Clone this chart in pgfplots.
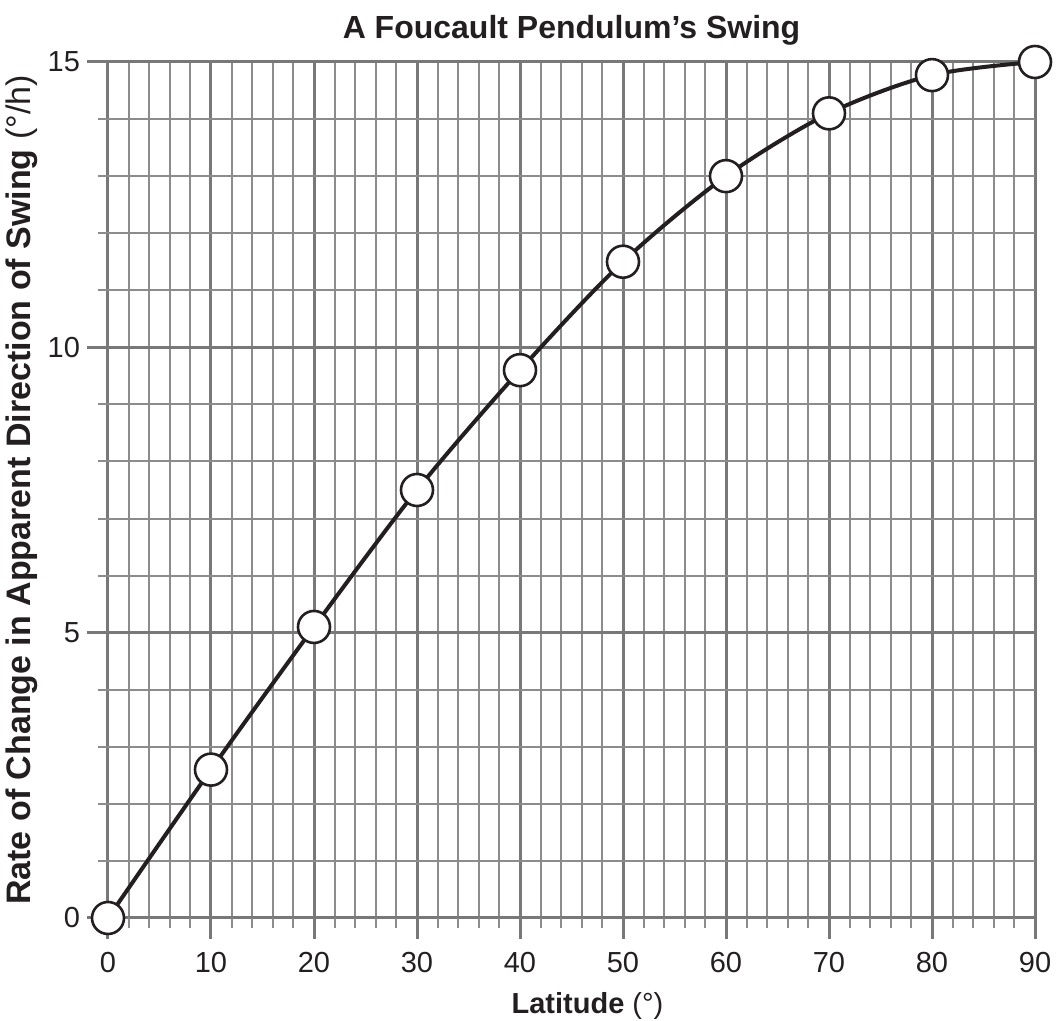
\documentclass[border=0pt]{standalone}
\usepackage{pgfplots}
\pgfplotsset{compat=1.18}
\usepackage{fontspec}
\setmainfont{Liberation Sans}
\definecolor{gridc}{RGB}{120,120,120}
\definecolor{minc}{RGB}{140,140,140}
\definecolor{ink}{RGB}{35,31,32}
\begin{document}
\begin{tikzpicture}
\begin{axis}[
  at={(0,0)}, anchor=south west,
  scale only axis,
  width=463.5pt, height=428pt,
  xmin=0, xmax=90, ymin=0, ymax=15,
  xtick={0,10,...,90}, ytick={0,5,10,15},
  minor xtick={2,4,6,8,12,14,16,18,22,24,26,28,32,34,36,38,42,44,46,48,52,54,56,58,62,64,66,68,72,74,76,78,82,84,86,88},
  minor ytick={1,2,3,4,6,7,8,9,11,12,13,14},
  grid=both,
  major grid style={draw=gridc, line width=1.5pt},
  minor grid style={draw=minc, line width=1pt},
  axis line style={draw=none},
  tick align=outside,
  xtick pos=bottom, ytick pos=left,
  major tick length=10.5pt, minor tick length=5pt,
  every major tick/.style={draw=gridc, line width=1.5pt},
  every minor tick/.style={draw=minc, line width=1pt},
  /pgf/number format/assume math mode=true,
  tick label style={font=\fontsize{14.5}{16}\selectfont, text=ink},
  xticklabel style={yshift=-3pt},
  yticklabel style={xshift=0pt},
  title={\bfseries A Foucault Pendulum’s Swing},
  title style={font=\fontsize{16}{18}\selectfont, text=ink, yshift=-1pt},
  xlabel={\textbf{Latitude} (°)},
  ylabel={\textbf{Rate of Change in Apparent Direction of Swing} (°/h)},
  label style={text=ink},
  xlabel style={font=\fontsize{14.5}{16}\selectfont, xshift=8pt, yshift=-3pt},
  ylabel style={font=\fontsize{17}{19}\selectfont, yshift=-2pt},
  clip=false,
]
\addplot[ink, line width=2pt, smooth, tension=0.5,
  mark=*, mark size=8pt, mark options={fill=white, draw=ink, line width=1.3pt}]
  coordinates {(0,0) (10,2.6) (20,5.1) (30,7.5) (40,9.6) (50,11.5) (60,13.0) (70,14.1) (80,14.77) (90,15.0)};
\end{axis}
\pgfresetboundingbox
\useasboundingbox (-54pt,-51.5pt) rectangle (474pt,459pt);
\end{tikzpicture}
\end{document}
